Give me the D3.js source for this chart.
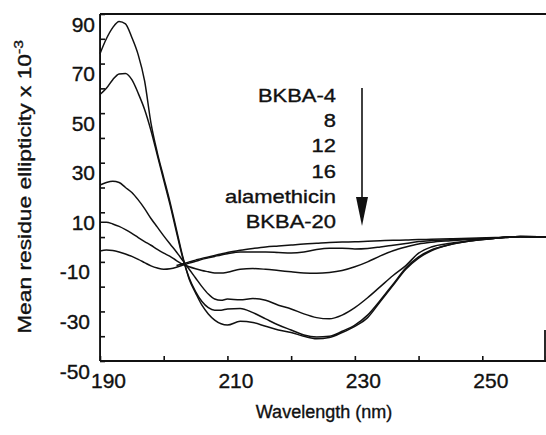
<script src='https://d3js.org/d3.v7.min.js'></script>
<style>body{margin:0;background:#fff;} text{font-family:'Liberation Sans',Arial,Helvetica,sans-serif;fill:#111;stroke:#111;stroke-width:0.35px;}</style>
<svg id='cd' width='546' height='435'></svg>
<script>
// wavelength grid (nm) shared by all spectra
var wl=[190,191,192,193,194,195,196,197,198,199,200,201,202,203,204,205,206,207,208,209,210,
        212,214,216,218,220,222,224,226,228,230,232,234,236,238,240,242,245,248,252,256,260];
// mean residue ellipticity x 10^-3
var bkba20=[74,80,84.5,87,86,80.5,73.5,63,46,34,24,14,3,-8,-17,-22.5,-27.5,-31,-33.5,-35,-35.5,
            -34,-34.5,-36,-37.5,-38.5,-40,-41,-40.5,-38.5,-36,-32.5,-26,-19.5,-13,-8.5,-5.5,-3,-1.6,-0.5,0.2,0];
var alamethicin=[57.5,60,63.5,65.8,66,63.5,58,51.5,43,33,23,13,2,-8.5,-16.5,-22,-26,-28.5,-29.5,-29.5,-29,
            -28.8,-30.5,-33,-35.5,-37.5,-39.5,-40.3,-40,-38,-35.5,-31.5,-25.5,-19,-12.5,-8,-5.2,-3,-1.6,-0.5,0.2,0];
var bkba16=[21,22,22.5,22,20,18,15,11.5,7.5,4,0.5,-2.8,-6,-9.5,-13,-16.5,-20,-23,-25,-25.5,-25,
            -25.3,-24.8,-25.5,-27.5,-29,-31,-32.5,-33,-31.5,-28.5,-24.5,-20,-15.5,-11.5,-6.5,-4,-2.5,-1.5,-0.5,0.2,0];
var bkba12=[6,6,5.3,4.3,3,1.5,-0.2,-1.8,-3.3,-5,-6.5,-7.8,-9.5,-11,-12,-12.8,-13.5,-14,-14.5,-14.5,-14.2,
            -13,-12.7,-13,-13.5,-14,-14.5,-14.6,-14.3,-13.5,-12,-10,-7.6,-5.5,-4,-2.8,-2.1,-1.5,-1,-0.4,0.1,0];
var bkba8=[-5.6,-5.2,-5.4,-6,-6.8,-7.8,-9,-10.3,-11.6,-12.5,-13,-12.8,-12.2,-11.3,-10.5,-9.8,-9,-8.4,-7.8,-7.2,-6.7,
            -6,-6,-6,-6.2,-6.4,-6,-5,-4.5,-4.5,-4.8,-4.6,-4,-3.3,-2.6,-1.8,-1.4,-1.1,-0.8,-0.4,0.1,0];
var bkba4=[null,null,null,null,null,null,null,null,null,null,null,null,-11.5,-10.8,-10,-9.3,-8.6,-8,-7.4,-6.8,-6.2,
            -5.3,-4.6,-4,-3.6,-3.2,-2.8,-2.5,-2.2,-2,-1.9,-1.7,-1.5,-1.3,-1.2,-1,-0.9,-0.7,-0.5,-0.2,0.1,0];
var series=[bkba4,bkba8,bkba12,bkba16,alamethicin,bkba20];
var legendLabels=['BKBA-4','8','12','16','alamethicin','BKBA-20'];
var xLabels=[190,210,230,250], yLabels=[90,70,50,30,10,-10,-30,-50];

var x=d3.scaleLinear().domain([190,260]).range([100,546]),
    y=d3.scaleLinear().domain([-50,90]).range([361,14]);
var svg=d3.select('#cd');

var line=d3.line().defined(function(d){return d[1]!==null;})
           .curve(d3.curveMonotoneX)
           .x(function(d){return x(d[0]);})
           .y(function(d){return y(d[1]);});
series.forEach(function(s){
  svg.append('path').datum(wl.map(function(w,i){return [w,s[i]];}))
     .attr('d',line).attr('fill','none').attr('stroke','#111')
     .attr('stroke-width',1.5).attr('stroke-linejoin','round');
});

// axes, ticks pointing inward
var xAxis=d3.axisBottom(x).tickValues(d3.range(190,261,10)).tickSizeInner(-5).tickSizeOuter(0)
            .tickFormat(function(d){return xLabels.indexOf(d)>=0?d:'';});
var gx=svg.append('g').attr('transform','translate(0,361)').call(xAxis);
gx.selectAll('text').attr('y',27).attr('dy',0).attr('dx',8).style('font-size','21px');
var yAxis=d3.axisLeft(y).tickValues(d3.range(-50,91,10)).tickSizeInner(-5).tickSizeOuter(0)
            .tickFormat(function(d){return yLabels.indexOf(d)>=0?d:'';});
var gy=svg.append('g').attr('transform','translate(100,0)').call(yAxis);
gy.selectAll('text').attr('x',function(d){return d<0?-10:-5;}).attr('dy',17).style('font-size','21px');
svg.selectAll('.tick line').attr('stroke','#111').attr('stroke-width',1.6);
// frame: bottom, left, top and the short piece of right frame
var frame=[[100,361,546,361],[100,14,100,361],[100,14,546,14],[545,330,545,361]];
frame.forEach(function(f){
  svg.append('line').attr('x1',f[0]).attr('y1',f[1]).attr('x2',f[2]).attr('y2',f[3])
     .attr('stroke','#111').attr('stroke-width',1.8);
});

// axis titles
svg.append('text').attr('x',324).attr('y',418).attr('text-anchor','middle')
   .style('font-size','18px').text('Wavelength (nm)');
var yt=svg.append('g').attr('transform','translate(31,187) rotate(-90) scale(1.2,1)')
          .append('text').attr('text-anchor','middle').style('font-size','19px');
yt.append('tspan').text('Mean residue ellipticity x 10');
yt.append('tspan').attr('dy',-8).style('font-size','13px').text('-3');

// legend with arrow
legendLabels.forEach(function(t,i){
  svg.append('g').attr('transform','translate(336,'+(102+25.2*i)+') scale(1.22,1)')
     .append('text').attr('text-anchor','end').style('font-size','18px').text(t);
});
svg.append('line').attr('x1',362).attr('x2',362).attr('y1',88).attr('y2',205)
   .attr('stroke','#111').attr('stroke-width',1.6);
svg.append('path').attr('d','M356,197L368,197L362,226Z').attr('fill','#111');
</script>
